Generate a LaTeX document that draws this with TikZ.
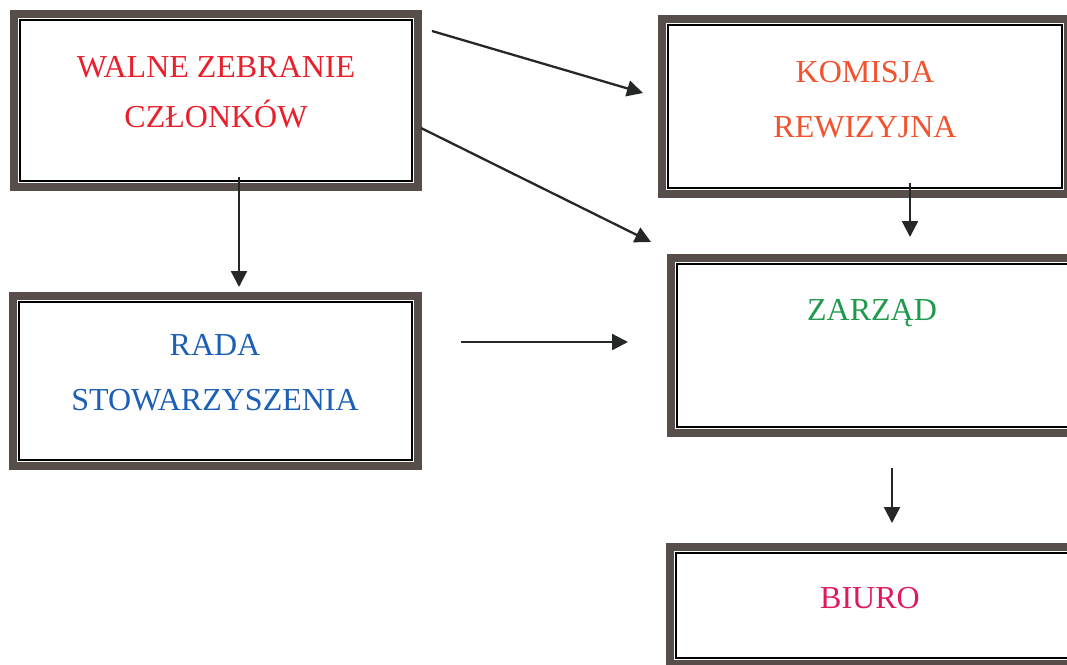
\documentclass[tikz,border=0pt]{standalone}
\usepackage{fontspec}
\setmainfont{Liberation Serif}
\usetikzlibrary{arrows.meta}
\definecolor{framegray}{HTML}{574D4B}
\definecolor{arrowgray}{HTML}{262828}
\definecolor{cwalne}{HTML}{E8202C}
\definecolor{ckomisja}{HTML}{F0532E}
\definecolor{czarzad}{HTML}{1E9A4C}
\definecolor{crada}{HTML}{1C5FB6}
\definecolor{cbiuro}{HTML}{E0195C}
\tikzset{
  frame/.style={draw=framegray, line width=8.5pt, fill=white, inner sep=0pt, rectangle},
  innerline/.style={draw=black, line width=2.2pt},
  lbl/.style={font=\fontsize{32}{36}\selectfont, inner sep=0pt, anchor=base},
  conn/.style={draw=arrowgray, line width=2.3pt, -{Triangle[length=16pt,width=16pt]}}
}
\newcommand{\innerframe}[1]{%
  \draw[innerline] ([xshift=10pt,yshift=-10pt]#1.north west) rectangle ([xshift=-10pt,yshift=10pt]#1.south east);}
\begin{document}
\begin{tikzpicture}[x=1pt,y=-1pt]
\useasboundingbox (0,0) rectangle (1067,664);
% boxes
\node[frame, minimum width=404pt, minimum height=173pt] (walne) at (216,100.5) {};
\innerframe{walne}
\node[frame, minimum width=406pt, minimum height=175pt] (komisja) at (865,106.5) {};
\innerframe{komisja}
\node[frame, minimum width=403pt, minimum height=175pt] (zarzad) at (872.5,345.5) {};
\innerframe{zarzad}
\node[frame, minimum width=404pt, minimum height=117pt] (biuro) at (872,605.5) {};
\innerframe{biuro}
\node[frame, minimum width=405pt, minimum height=170pt] (rada) at (215.5,381) {};
\innerframe{rada}
% labels
\node[lbl, text=cwalne] (walneA) at (216,77) {WALNE ZEBRANIE};
\node[lbl, text=cwalne] (walneB) at (216,127) {CZŁONKÓW};
\node[lbl, text=ckomisja] (komA) at (865,82) {KOMISJA};
\node[lbl, text=ckomisja] (komB) at (865,137) {REWIZYJNA};
\node[lbl, text=czarzad] (zarA) at (872,320) {ZARZĄD};
\node[lbl, text=crada] (radaA) at (215,355) {RADA};
\node[lbl, text=crada] (radaB) at (215,410) {STOWARZYSZENIA};
\node[lbl, text=cbiuro] (biuA) at (870,608) {BIURO};
% connector end points
\coordinate (a1s) at (239,177);
\coordinate (a1e) at (239,287);
\coordinate (a2s) at (432,31);
\coordinate (a2e) at (643,93);
\coordinate (a3s) at (421,128);
\coordinate (a3e) at (651,242);
\coordinate (a4s) at (461,342);
\coordinate (a4e) at (628,342);
\coordinate (a5s) at (910,183);
\coordinate (a5e) at (910,237);
\coordinate (a6s) at (892,468);
\coordinate (a6e) at (892,523);
% connectors
\draw[conn] (a1s) -- (a1e);
\draw[conn] (a2s) -- (a2e);
\draw[conn] (a3s) -- (a3e);
\draw[conn] (a4s) -- (a4e);
\draw[conn] (a5s) -- (a5e);
\draw[conn] (a6s) -- (a6e);
\end{tikzpicture}
\end{document}
